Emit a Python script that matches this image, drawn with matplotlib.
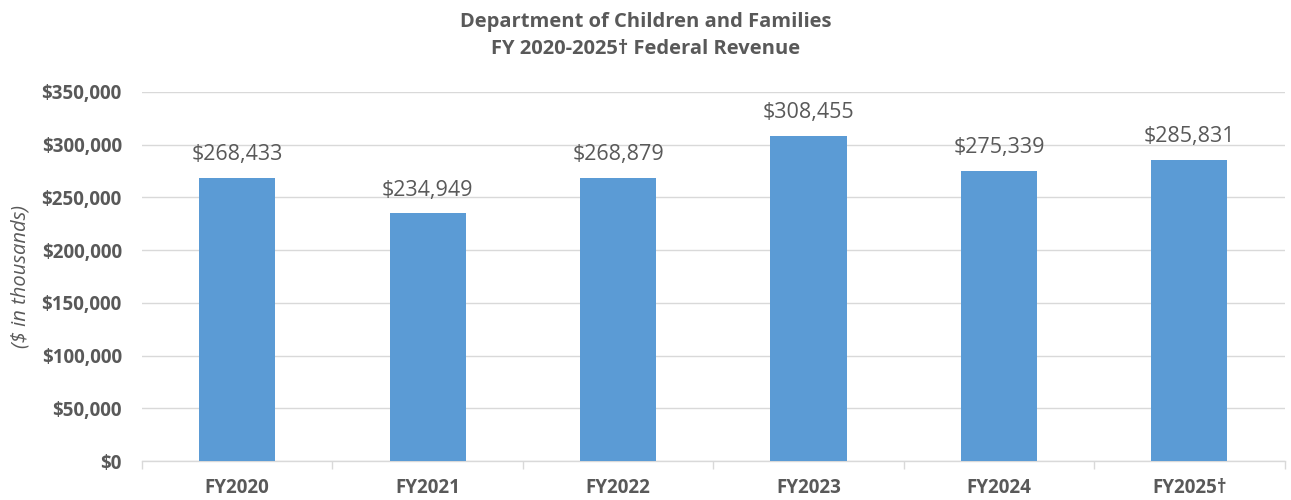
import matplotlib
matplotlib.use("Agg")
import matplotlib.pyplot as plt
from matplotlib.ticker import FuncFormatter, FixedLocator

categories = ["FY2020", "FY2021", "FY2022", "FY2023", "FY2024", "FY2025\u2020"]
values = [268433, 234949, 268879, 308455, 275339, 285831]
title = "Department of Children and Families\nFY 2020-2025\u2020 Federal Revenue"
ylabel = "($ in thousands)"

plt.rcParams['font.family'] = ['Open Sans', 'DejaVu Sans']
txt = "#595959"

fig = plt.figure(figsize=(12.91, 5.0), dpi=100)
ax = fig.add_axes([0.110, 0.078, 0.885, 0.738])

x = list(range(len(categories)))
bars = ax.bar(x, values, width=0.4, color="#5B9BD5", zorder=3)

ax.set_xlim(-0.5, len(categories) - 0.5)
ax.set_ylim(0, 350000)
ax.set_yticks(range(0, 350001, 50000))
ax.yaxis.set_major_formatter(FuncFormatter(lambda v, p: f"${v:,.0f}"))
ax.grid(axis="y", color="#d9d9d9", linewidth=1, zorder=0)

ax.set_xticks(x)
ax.set_xticklabels(categories)
ax.xaxis.set_minor_locator(FixedLocator([i - 0.5 for i in range(len(categories) + 1)]))
ax.tick_params(axis="x", which="major", length=0, pad=12)
ax.tick_params(axis="x", which="minor", length=6, color="#d9d9d9", width=1)
ax.tick_params(axis="y", length=0, pad=14.5)
for lab in ax.get_xticklabels():
    lab.set_fontweight("bold")
    lab.set_color(txt)
    lab.set_fontsize(13.5)
for lab in ax.get_yticklabels():
    lab.set_fontweight("bold")
    lab.set_color(txt)
    lab.set_fontsize(13.5)

for s in ["left", "right", "top"]:
    ax.spines[s].set_visible(False)
ax.spines["bottom"].set_color("#d9d9d9")
ax.spines["bottom"].set_linewidth(1)

for rect, v in zip(bars, values):
    ax.annotate(f"${v:,.0f}", (rect.get_x() + rect.get_width() / 2, v),
                xytext=(0, 9), textcoords="offset points", ha="center", va="bottom",
                fontsize=15.5, color=txt)

ax.set_ylabel(ylabel, fontstyle="italic", color=txt, fontsize=14.5, labelpad=8)
fig.text(0.5, 0.975, title, ha="center", va="top", fontsize=14.5, fontweight="bold",
         color=txt, linespacing=1.42)

fig.savefig("out.png", dpi=100)
